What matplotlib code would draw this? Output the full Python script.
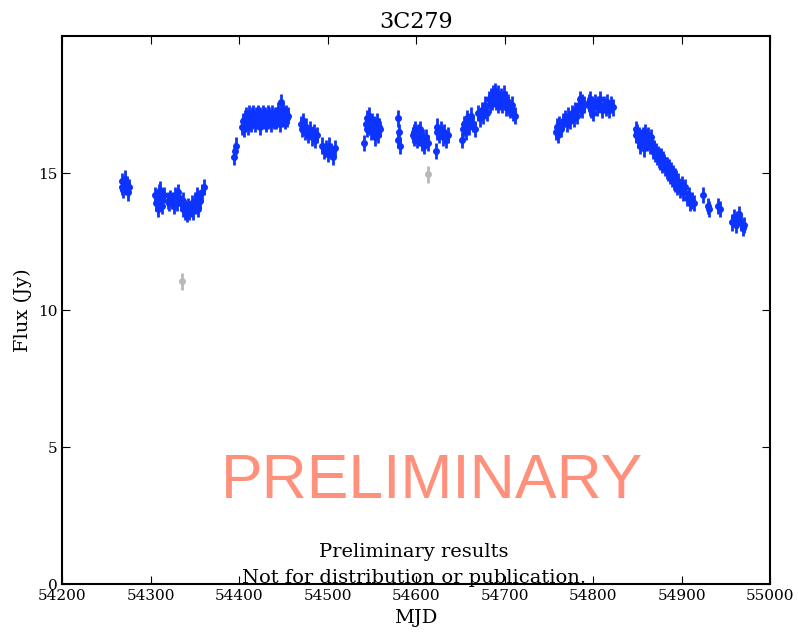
import matplotlib
matplotlib.use("Agg")
import matplotlib.pyplot as plt

plt.rcParams['font.family'] = ['DejaVu Serif']

# 3C279 light curve (MJD, flux in Jy)
mjd = [54267, 54268, 54269, 54270, 54271, 54272, 54273, 54274, 54275,
       54305, 54306, 54307, 54308, 54309, 54310, 54311, 54312, 54313, 54315,
       54320, 54321, 54322, 54324, 54326, 54327, 54329, 54330, 54331, 54332,
       54334, 54336, 54337, 54338, 54339, 54340, 54341, 54342, 54343, 54345,
       54347, 54348, 54350, 54351, 54352, 54353, 54354, 54356, 54358, 54360,
       54394, 54395, 54396,
       54403, 54404, 54405, 54406, 54407, 54408, 54409, 54410, 54411, 54412,
       54413, 54414, 54415, 54416, 54417, 54418, 54419, 54420, 54421, 54422,
       54423, 54424, 54425, 54426, 54427, 54428, 54429, 54430, 54431, 54432,
       54433, 54434, 54435, 54436, 54437, 54438, 54439, 54440, 54442, 54443,
       54444, 54445, 54446, 54447, 54448, 54449, 54450, 54451, 54452, 54453,
       54454, 54455,
       54470, 54471, 54472, 54473, 54474, 54476, 54478, 54480, 54482, 54484,
       54486, 54488,
       54494, 54496, 54498, 54500, 54502, 54504, 54506, 54508,
       54541, 54543, 54544, 54545, 54546, 54547, 54548, 54549, 54550, 54551,
       54552, 54553, 54554, 54555, 54556, 54557, 54558, 54559,
       54579, 54580, 54581, 54582,
       54596, 54597, 54598, 54599, 54600, 54601, 54602, 54603, 54604, 54606,
       54607, 54608, 54609, 54611, 54613,
       54622, 54623, 54624, 54626, 54628, 54630, 54632, 54634, 54636,
       54652, 54653, 54654, 54656, 54657, 54658, 54660, 54662, 54664, 54667,
       54670, 54672, 54674, 54676, 54678, 54680, 54682, 54684, 54685, 54686,
       54687, 54688, 54689, 54690, 54691, 54692, 54693, 54694, 54695, 54696,
       54697, 54698, 54699, 54700, 54701, 54702, 54703, 54704, 54705, 54706,
       54708, 54710, 54712,
       54758, 54759, 54760, 54762, 54764, 54766, 54768, 54770, 54772, 54774,
       54776, 54778, 54780, 54782, 54784, 54785, 54786, 54787, 54788, 54790,
       54795, 54796, 54797, 54798, 54799, 54800, 54802, 54804, 54806, 54808,
       54810, 54812, 54814, 54816, 54818, 54820, 54822,
       54848, 54849, 54850, 54851, 54852, 54853, 54854, 54855, 54856, 54857,
       54858, 54859, 54860, 54861, 54862, 54863, 54864, 54865, 54866, 54867,
       54868, 54869, 54870, 54871, 54872, 54873, 54874, 54875, 54876, 54877,
       54878, 54879, 54880, 54881, 54882, 54883, 54884, 54885, 54886, 54887,
       54888, 54889, 54890, 54891, 54892, 54893, 54894, 54895, 54896, 54898,
       54900, 54902, 54904, 54906, 54908, 54910, 54912, 54914, 54924, 54930,
       54931, 54941, 54943,
       54957, 54959, 54961, 54963, 54965, 54967, 54969, 54971]
flux = [14.5, 14.7, 14.4, 14.6, 14.8, 14.5, 14.6, 14.3, 14.5,
        14.2, 13.9, 14.1, 13.7, 14.3, 14.0, 14.4, 14.1, 13.8, 14.2,
        14.0, 13.9, 14.1, 14.0, 13.8, 14.2, 14.0, 13.9, 14.3, 14.1,
        13.9, 13.7, 14.0, 13.8, 13.6, 13.7, 13.5, 13.8, 13.6, 13.7,
        13.9, 13.6, 14.0, 13.8, 14.2, 13.7, 14.1, 14.0, 14.3, 14.5,
        15.6, 15.8, 16.0,
        16.7, 16.9, 16.6, 17.0, 16.8, 17.1, 16.9, 16.7, 17.2, 17.0,
        16.8, 17.1, 16.9, 17.2, 17.0, 16.8, 17.1, 16.9, 17.2, 17.0,
        16.7, 17.1, 16.9, 17.0, 17.2, 16.9, 17.1, 16.8, 17.0, 17.2,
        16.9, 17.1, 17.0, 16.8, 17.2, 17.0, 16.9, 17.1, 16.9, 17.0,
        17.3, 17.1, 16.8, 17.6, 17.2, 17.0, 17.3, 17.1, 16.9, 17.2,
        17.0, 17.1,
        16.8, 16.6, 16.9, 16.7, 16.5, 16.7, 16.4, 16.6, 16.3, 16.5,
        16.2, 16.4,
        16.0, 15.8, 15.9, 15.7, 16.0, 15.8, 15.6, 15.9,
        16.1, 16.8, 17.0, 16.6, 16.9, 17.1, 16.7, 16.5, 16.9, 16.6,
        16.8, 16.3, 16.7, 16.5, 16.9, 16.4, 16.7, 16.6,
        16.2, 17.0, 16.5, 16.0,
        16.4, 16.5, 16.3, 16.6, 16.4, 16.2, 16.5, 16.3, 16.6, 16.4,
        16.1, 16.3, 16.0, 16.3, 16.1,
        15.8, 16.5, 16.7, 16.4, 16.6, 16.3, 16.5, 16.2, 16.4,
        16.2, 16.6, 16.8, 16.5, 16.9, 17.0, 16.7, 17.1, 16.8, 16.6,
        17.2, 17.0, 17.3, 17.1, 17.5, 17.2, 17.7, 17.5, 17.8, 17.6,
        17.9, 17.7, 18.0, 17.6, 17.8, 17.5, 17.9, 17.7, 17.6, 17.8,
        17.5, 17.7, 17.9, 17.6, 17.4, 17.7, 17.5, 17.6, 17.4, 17.3,
        17.5, 17.2, 17.1,
        16.5, 16.7, 16.4, 16.8, 16.6, 16.9, 17.0, 16.8, 17.1, 16.9,
        17.2, 17.0, 17.3, 17.1, 17.5, 17.7, 17.4, 17.6, 17.3, 17.5,
        17.6, 17.4, 17.7, 17.3, 17.5, 17.2, 17.6, 17.4, 17.5, 17.7,
        17.3, 17.5, 17.4, 17.6, 17.3, 17.5, 17.4,
        16.6, 16.4, 16.5, 16.2, 16.4, 16.0, 16.3, 16.1, 16.4, 15.9,
        16.2, 16.5, 16.3, 16.1, 16.4, 16.2, 16.0, 16.3, 16.1, 16.0,
        15.8, 15.9, 15.7, 15.8, 15.6, 15.7, 15.5, 15.6, 15.4, 15.6,
        15.3, 15.5, 15.4, 15.2, 15.3, 15.1, 15.3, 15.0, 15.2, 14.9,
        15.1, 14.8, 15.0, 14.7, 14.9, 14.6, 14.8, 14.5, 14.7, 14.4,
        14.6, 14.3, 14.5, 14.1, 14.2, 13.9, 14.0, 13.9, 14.2, 13.8,
        13.7, 13.8, 13.7,
        13.2, 13.4, 13.1, 13.3, 13.5, 13.2, 13.0, 13.1]

# flagged points (grey)
mjd_bad = [54335.5, 54613.5]
flux_bad = [11.05, 14.95]

fig = plt.figure(figsize=(7.98, 6.33), dpi=100)
ax = fig.add_axes([0.078, 0.077, 0.887, 0.866])

ax.errorbar(mjd_bad, flux_bad, yerr=0.3, fmt='o', color='#b8b8b8',
            ms=4, elinewidth=2, capsize=0, mec='#b8b8b8')
ax.errorbar(mjd, flux, yerr=0.3, fmt='o', color='#0d33ff',
            ms=4, elinewidth=2, capsize=0, mec='#0d33ff')

ax.set_xlim(54200, 55000)
ax.set_ylim(0, 20)
ax.set_yticks([0, 5, 10, 15])
ax.set_xticks(range(54200, 55001, 100))
ax.tick_params(direction='in', top=True, right=True, length=6, labelsize=11)
for s in ax.spines.values():
    s.set_linewidth(1.5)
ax.ticklabel_format(useOffset=False, style='plain')

ax.set_title('3C279', fontsize=16)
ax.set_xlabel('MJD', fontsize=14)
ax.set_ylabel('Flux (Jy)', fontsize=14)

ax.text(0.523, 0.187, 'PRELIMINARY', transform=ax.transAxes, ha='center',
        va='center', fontsize=45, color='#ff917c', family='Liberation Sans')
ax.text(0.497, 0.058, 'Preliminary results', transform=ax.transAxes,
        ha='center', va='center', fontsize=14)
ax.text(0.497, 0.012, 'Not for distribution or publication.',
        transform=ax.transAxes, ha='center', va='center', fontsize=14)

fig.savefig('out.png', dpi=100)
